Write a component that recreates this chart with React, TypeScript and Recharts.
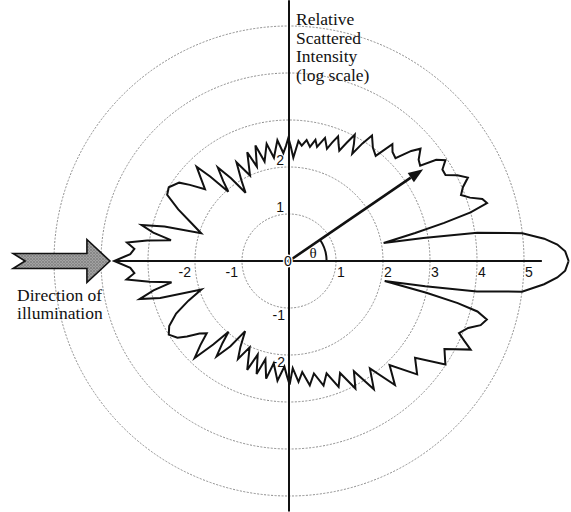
import React from "react";
import {
  ReferenceDot,
  ReferenceLine,
  Scatter,
  ScatterChart,
  XAxis,
  YAxis,
} from "recharts";

// scattering angle (deg, 0 = forward) and relative intensity (log units)
const angleDeg = [
  0, 2, 3.5, 5, 6.8, 8.5, 9.7, 10.8, 12.5, 13.8,
  15, 16.3, 17.8, 19.3, 21, 23, 25, 27, 28.8, 30.8,
  32.8, 34.5, 36, 38, 40.5, 42, 44, 46.5, 48.5, 50.5,
  53.5, 56.5, 58, 59.5, 61, 62.5, 64, 65.5, 67, 68.5,
  70, 71.3, 73.7, 76.2, 77.7, 79.6, 81.7, 83.7, 85.5, 87.6,
  89.2, 90.3, 91.5, 93, 95.5, 98.3, 100.8, 103.8, 106.2, 108.8,
  111, 114.5, 118, 120.5, 122.5, 125, 127.3, 129.5, 131.2, 133,
  134.4, 136.5, 139.5, 142.5, 144.5, 148.5, 151.5, 155, 158.5, 162.5,
  164.5, 166.3, 168.2, 170, 171.8, 173.5, 175.5, 177.5, 180, 182.5,
  184.5, 186.5, 188.5, 190.3, 192.2, 194.3, 196, 198, 201.5, 205,
  208.5, 211.5, 214.5, 216.5, 219, 221.3, 223.5, 225.8, 227.8, 229.5,
  231, 232.8, 235.5, 238, 240.5, 242.5, 245.5, 249, 251.5, 254,
  256.5, 259, 261.5, 264.5, 267.5, 269, 270.3, 272, 274.5, 276.8,
  279.5, 282.5, 285.5, 288.5, 291.5, 294.5, 297.5, 300.5, 303.5, 307,
  310.5, 314, 318.5, 322.5, 326.5, 330.5, 334, 335.5, 337, 339.5,
  341.5, 343.5, 345, 346, 347, 348.2, 349.5, 350.8, 352.5, 354.8,
  356.5, 358,
];

const logIntensity = [
  5.95, 5.88, 5.72, 5.45, 5.0, 4.05, 2.9, 2.05, 2.75, 3.4,
  4.0, 4.39, 4.32, 4.08, 3.92, 4.02, 4.2, 4.02, 3.8, 3.8,
  3.96, 3.8, 3.45, 3.5, 3.68, 3.5, 3.15, 3.2, 3.32, 2.9,
  3.0, 3.2, 2.95, 2.65, 2.85, 3.03, 2.8, 2.58, 2.7, 2.85,
  2.68, 2.52, 2.73, 2.5, 2.64, 2.47, 2.6, 2.47, 2.56, 2.2,
  2.45, 2.62, 2.45, 2.3, 2.58, 2.22, 2.54, 2.18, 2.56, 2.12,
  2.48, 2.0, 2.38, 2.0, 1.72, 2.15, 2.5, 2.2, 1.96, 2.45,
  2.81, 2.6, 2.35, 2.66, 2.87, 3.0, 2.95, 2.6, 2.25, 1.96,
  2.75, 3.23, 2.95, 2.55, 3.05, 3.47, 3.3, 3.38, 3.72, 3.38,
  3.3, 3.48, 3.0, 2.54, 2.95, 3.28, 2.85, 1.96, 2.3, 2.65,
  2.9, 3.0, 2.88, 2.7, 2.45, 2.33, 2.6, 2.88, 2.4, 1.98,
  2.25, 2.55, 2.2, 1.76, 2.1, 2.35, 2.02, 2.48, 2.1, 2.5,
  2.15, 2.55, 2.2, 2.56, 2.25, 2.45, 2.63, 2.28, 2.58, 2.38,
  2.68, 2.45, 2.75, 2.52, 2.88, 2.62, 3.06, 2.72, 3.27, 2.86,
  3.47, 3.08, 3.64, 3.38, 3.99, 3.8, 4.3, 4.1, 3.93, 4.07,
  4.3, 4.39, 4.15, 3.7, 3.0, 2.08, 2.95, 4.05, 5.0, 5.45,
  5.72, 5.88,
];

// dotted rings (log units) and axis tick labels
const ringRadii = [1, 2, 3, 4, 5];
const rightTicks = [1, 2, 3, 4, 5];
const leftTicks = [-1, -2];
const upTicks = [1, 2];
const downTicks = [-1, -2];

const WIDTH = 571;
const HEIGHT = 512;
const CX = 289;
const CY = 261;
const UNIT = 47; // px per log unit

const X_DOMAIN = [-CX / UNIT, (WIDTH - CX) / UNIT];
const Y_DOMAIN = [-(HEIGHT - CY) / UNIT, CY / UNIT];

const THETA_DEG = 34.4;
const THETA_LEN = 3.46;

const SERIF = '"Liberation Serif", "DejaVu Serif", serif';
const SANS = '"Liberation Sans", Arial, sans-serif';

const rad = (d: number) => (d * Math.PI) / 180;

// polar -> x/y for the cartesian axes, closed back to the start
const curve = angleDeg.map((a, i) => ({
  x: logIntensity[i] * Math.cos(rad(a)),
  y: logIntensity[i] * Math.sin(rad(a)),
}));
curve.push({ ...curve[0] });

const tickData = (vals: number[], onX: boolean) =>
  vals.map((v) => ({ x: onX ? v : 0, y: onX ? 0 : v, label: String(v) }));

const tickShape = (dx: number, dy: number, anchor: string) => (p: any) => (
  <text
    x={p.cx + dx}
    y={p.cy + dy}
    textAnchor={anchor}
    fontFamily={SANS}
    fontSize={14}
    fill="#111"
  >
    {p.payload.label}
  </text>
);

const RingShape = (p: any) => (
  <circle
    cx={p.x1}
    cy={p.y1}
    r={Math.abs(p.x2 - p.x1)}
    fill="none"
    stroke="#8c8c8c"
    strokeWidth={1}
    strokeDasharray="2 1.5"
  />
);

const ThetaArrow = (p: any) => {
  const { x1, y1, x2, y2 } = p;
  const a = Math.atan2(y2 - y1, x2 - x1);
  const hl = 15;
  const hw = 5.5;
  const bx = x2 - hl * Math.cos(a);
  const by = y2 - hl * Math.sin(a);
  const nx = -Math.sin(a);
  const ny = Math.cos(a);
  return (
    <g>
      <line x1={x1} y1={y1} x2={bx} y2={by} stroke="#111" strokeWidth={2.6} />
      <polygon
        points={`${x2},${y2} ${bx + nx * hw},${by + ny * hw} ${bx - nx * hw},${by - ny * hw}`}
        fill="#111"
      />
    </g>
  );
};

const ThetaArc = (p: any) => {
  const { x1, y1, x2 } = p;
  const R = x2 - x1;
  const a = rad(THETA_DEG);
  return (
    <path
      d={`M ${x1 + R} ${y1} A ${R} ${R} 0 0 0 ${x1 + R * Math.cos(a)} ${y1 - R * Math.sin(a)}`}
      fill="none"
      stroke="#111"
      strokeWidth={2}
    />
  );
};

const IlluminationArrow = (p: any) => {
  const { x1, x2, y1 } = p;
  const sh = 7.5;
  const hh = 21.5;
  const hb = x2 - 23;
  const pts = [
    [x1, y1 - sh],
    [hb, y1 - sh],
    [hb, y1 - hh],
    [x2, y1],
    [hb, y1 + hh],
    [hb, y1 + sh],
    [x1, y1 + sh],
    [x1 + 12, y1],
  ]
    .map((q) => q.join(","))
    .join(" ");
  return (
    <g>
      <defs>
        <pattern id="stipple" width="3" height="3" patternUnits="userSpaceOnUse">
          <rect width="3" height="3" fill="#a2a2a2" />
          <circle cx="1" cy="1" r="0.7" fill="#5a5a5a" />
          <circle cx="2.5" cy="2.2" r="0.5" fill="#777" />
        </pattern>
      </defs>
      <polygon points={pts} fill="url(#stipple)" stroke="#111" strokeWidth={1.6} />
    </g>
  );
};

const TitleText = (p: any) => (
  <text x={p.cx + 7} y={p.cy} fontFamily={SERIF} fontSize={17.5} fill="#111">
    <tspan x={p.cx + 7} dy={0}>Relative</tspan>
    <tspan x={p.cx + 7} dy={18.5}>Scattered</tspan>
    <tspan x={p.cx + 7} dy={18.5}>Intensity</tspan>
    <tspan x={p.cx + 7} dy={18.5}>(log scale)</tspan>
  </text>
);

const IllumText = (p: any) => (
  <text x={p.cx + 4} y={p.cy} fontFamily={SERIF} fontSize={17.5} fill="#111">
    <tspan x={p.cx + 4} dy={0}>Direction of</tspan>
    <tspan x={p.cx + 4} dy={18}>illumination</tspan>
  </text>
);

const OriginLabel = (p: any) => (
  <text
    x={p.cx - 1}
    y={p.cy + 5}
    textAnchor="middle"
    fontFamily={SANS}
    fontSize={14}
    fill="#111"
    stroke="#fff"
    strokeWidth={3}
    paintOrder="stroke"
  >
    0
  </text>
);

const ThetaLabel = (p: any) => (
  <text
    x={p.cx + 24}
    y={p.cy - 3}
    textAnchor="middle"
    fontFamily={SERIF}
    fontSize={15}
    fill="#111"
  >
    θ
  </text>
);

const NoDot = () => <g />;

export default function App() {
  const tipX = THETA_LEN * Math.cos(rad(THETA_DEG));
  const tipY = THETA_LEN * Math.sin(rad(THETA_DEG));
  return (
    <div
      style={{
        position: "absolute",
        left: 0,
        top: 0,
        width: WIDTH,
        height: HEIGHT,
        background: "#fff",
      }}
    >
      <ScatterChart
        width={WIDTH}
        height={HEIGHT}
        margin={{ top: 0, right: 0, bottom: 0, left: 0 }}
      >
        <XAxis type="number" dataKey="x" domain={X_DOMAIN} allowDataOverflow hide />
        <YAxis type="number" dataKey="y" domain={Y_DOMAIN} allowDataOverflow hide />
        {ringRadii.map((k) => (
          <ReferenceLine
            key={`ring-${k}`}
            segment={[{ x: 0, y: 0 }, { x: k, y: 0 }]}
            ifOverflow="visible"
            shape={RingShape}
          />
        ))}
        <ReferenceLine
          segment={[{ x: -3.72, y: 0 }, { x: 5.38, y: 0 }]}
          stroke="#111"
          strokeWidth={2}
          ifOverflow="visible"
        />
        <ReferenceLine
          segment={[{ x: 0, y: -5.33 }, { x: 0, y: 5.55 }]}
          stroke="#111"
          strokeWidth={2}
          ifOverflow="visible"
        />
        <ReferenceLine
          segment={[{ x: -5.87, y: 0 }, { x: -3.81, y: 0 }]}
          ifOverflow="visible"
          shape={IlluminationArrow}
        />
        <ReferenceLine
          segment={[{ x: 0, y: 0 }, { x: tipX, y: tipY }]}
          ifOverflow="visible"
          shape={ThetaArrow}
        />
        <ReferenceLine
          segment={[{ x: 0, y: 0 }, { x: 0.8, y: 0 }]}
          ifOverflow="visible"
          shape={ThetaArc}
        />
        <Scatter
          data={curve}
          line={{ stroke: "#111", strokeWidth: 2 }}
          lineType="joint"
          shape={NoDot}
          isAnimationActive={false}
        />
        <ReferenceDot x={0} y={0} r={0} ifOverflow="visible" shape={OriginLabel} />
        <ReferenceDot x={0} y={0} r={0} ifOverflow="visible" shape={ThetaLabel} />
        <ReferenceDot x={0} y={5.02} r={0} ifOverflow="visible" shape={TitleText} />
        <ReferenceDot x={-5.87} y={-0.85} r={0} ifOverflow="visible" shape={IllumText} />
        <Scatter
          data={tickData(rightTicks, true)}
          shape={tickShape(1, 16, "start")}
          isAnimationActive={false}
        />
        <Scatter
          data={tickData(leftTicks, true)}
          shape={tickShape(-4, 16, "end")}
          isAnimationActive={false}
        />
        <Scatter
          data={tickData(upTicks, false)}
          shape={tickShape(-5, -2, "end")}
          isAnimationActive={false}
        />
        <Scatter
          data={tickData(downTicks, false)}
          shape={tickShape(-4, 12, "end")}
          isAnimationActive={false}
        />
      </ScatterChart>
    </div>
  );
}
